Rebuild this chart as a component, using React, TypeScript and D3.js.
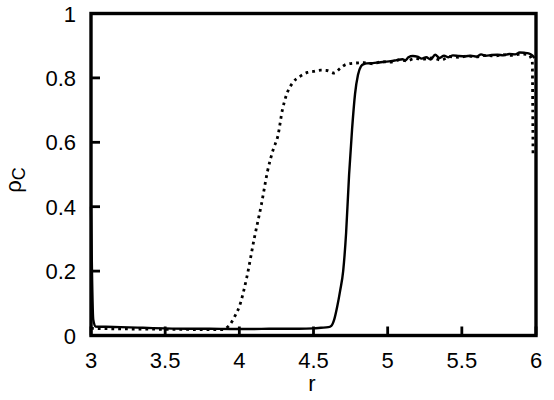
import React from "react";
import * as d3 from "d3";

const W = 554;
const H = 400;

const xTicks = [3, 3.5, 4, 4.5, 5, 5.5, 6];
const yTicks = [0, 0.2, 0.4, 0.6, 0.8, 1];

// solid curve
const solidR = [3.0, 3.015, 3.03, 3.1, 3.2, 3.35, 3.5, 3.65, 3.8, 3.95, 4.0, 4.1, 4.2, 4.3, 4.4, 4.5, 4.55, 4.6, 4.62, 4.64, 4.66, 4.68, 4.7, 4.72, 4.74, 4.76, 4.78, 4.8, 4.82, 4.84,
  4.86, 4.9, 4.94, 4.98, 5.02, 5.06, 5.1, 5.12, 5.14, 5.17, 5.2, 5.23, 5.26, 5.29, 5.32, 5.35, 5.38, 5.41, 5.44, 5.48, 5.52, 5.56, 5.6, 5.63, 5.66, 5.7, 5.74, 5.78, 5.82, 5.86, 5.89, 5.92, 5.95, 5.975, 5.99];
const solidV = [0.40, 0.05, 0.028, 0.027, 0.026, 0.024, 0.022, 0.021, 0.021, 0.02, 0.02, 0.02, 0.021, 0.021, 0.021, 0.022, 0.024, 0.026, 0.03, 0.05, 0.09, 0.14, 0.2, 0.32, 0.5, 0.64, 0.75, 0.81, 0.836, 0.843,
  0.845, 0.846, 0.848, 0.85, 0.852, 0.855, 0.858, 0.855, 0.864, 0.868, 0.866, 0.86, 0.864, 0.857, 0.872, 0.862, 0.869, 0.864, 0.87, 0.868, 0.867, 0.869, 0.866, 0.873, 0.869, 0.871, 0.872, 0.87, 0.874, 0.873, 0.879, 0.878, 0.876, 0.87, 0.862];

// dotted curve
const dotR = [3.0, 3.3, 3.6, 3.88, 3.93, 3.97, 4.0, 4.05, 4.1, 4.15, 4.19, 4.23, 4.26, 4.29, 4.32, 4.36, 4.41, 4.46, 4.5, 4.55, 4.59, 4.64, 4.68, 4.72, 4.78, 4.84,
  4.9, 4.96, 5.02, 5.08, 5.13, 5.18, 5.24, 5.3, 5.36, 5.42, 5.48, 5.54, 5.6, 5.66, 5.72, 5.78, 5.84, 5.9, 5.95, 5.975, 5.978, 5.98];
const dotV = [0.022, 0.02, 0.019, 0.018, 0.03, 0.06, 0.09, 0.18, 0.3, 0.41, 0.51, 0.58, 0.62, 0.7, 0.75, 0.785, 0.805, 0.817, 0.82, 0.824, 0.823, 0.815, 0.83, 0.842, 0.846, 0.847,
  0.844, 0.85, 0.849, 0.856, 0.853, 0.86, 0.858, 0.862, 0.855, 0.866, 0.864, 0.868, 0.865, 0.87, 0.868, 0.872, 0.87, 0.874, 0.872, 0.85, 0.7, 0.556];

const L = 91, R = 536, T = 13.5, B = 335.5;

export default function App() {
  const x = d3.scaleLinear().domain([3, 6]).range([L, R]);
  const y = d3.scaleLinear().domain([0, 1]).range([B, T]);
  const line = d3.line<[number, number]>().x((d) => x(d[0])).y((d) => y(d[1])).curve(d3.curveMonotoneX);
  const solid = solidR.map((r, i) => [r, solidV[i]] as [number, number]);
  const dotted = dotR.map((r, i) => [r, dotV[i]] as [number, number]);
  const font = "'Liberation Sans', Arial, Helvetica, sans-serif";
  return (
    <div style={{ position: "fixed", left: 0, top: 0, width: W, height: H, background: "#fff" }}>
      <svg width={W} height={H} style={{ display: "block" }} fontFamily={font}>
        <rect x={0} y={0} width={W} height={H} fill="#fff" />
        <path d={line(dotted) || ""} fill="none" stroke="#000" strokeWidth={2.8} strokeDasharray="2.8 4" />
        <path d={line(solid) || ""} fill="none" stroke="#000" strokeWidth={2.4} strokeLinejoin="round" />
        {xTicks.map((t) => (
          <g key={"x" + t}>
            <line x1={x(t)} x2={x(t)} y1={B} y2={B - 9} stroke="#000" strokeWidth={2.8} />
            <text x={x(t)} y={368} fontSize={22} textAnchor="middle" fill="#000">{t}</text>
          </g>
        ))}
        {yTicks.map((t) => (
          <g key={"y" + t}>
            <line x1={L} x2={L + 9} y1={y(t)} y2={y(t)} stroke="#000" strokeWidth={2.8} />
            <text x={76} y={y(t) + 8} fontSize={22} textAnchor="end" fill="#000">{t}</text>
          </g>
        ))}
        <rect x={L} y={T} width={R - L} height={B - T} fill="none" stroke="#000" strokeWidth={3.4} />
        <text x={312} y={391} fontSize={22} textAnchor="middle" fill="#000">r</text>
        <text transform="translate(21,180) rotate(-90)" fontSize={22} textAnchor="middle" fill="#000">
          ρ<tspan fontSize={18} dy={4}>C</tspan>
        </text>
      </svg>
    </div>
  );
}
